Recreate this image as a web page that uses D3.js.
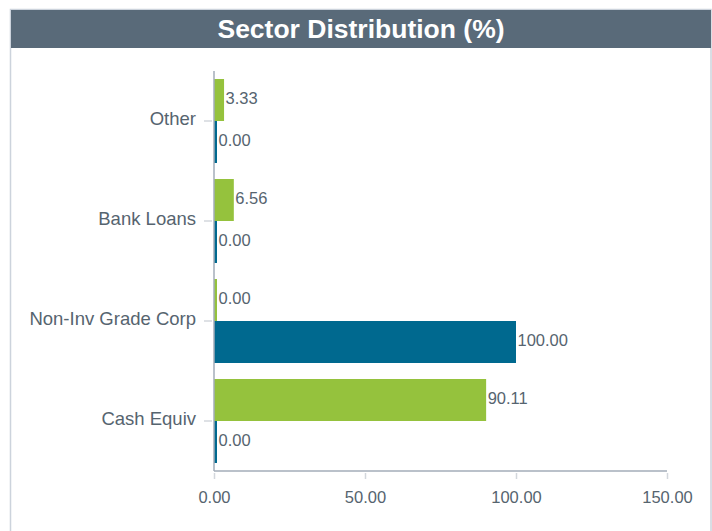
<!DOCTYPE html>
<html>
<head>
<meta charset="utf-8">
<script src="https://cdn.jsdelivr.net/npm/d3@7"></script>
<style>
  html, body { margin: 0; padding: 0; background: #ffffff; }
  svg { display: block; font-family: "Liberation Sans", Arial, sans-serif; }
</style>
</head>
<body>
<svg id="chart" width="712" height="531"></svg>
<script>
// Sector weights, two series per sector
const categories = ["Other", "Bank Loans", "Non-Inv Grade Corp", "Cash Equiv"];
const seriesNames = ["Fund", "Benchmark"];
const fundValues = [3.33, 6.56, 0.00, 90.11];
const benchmarkValues = [0.00, 0.00, 100.00, 0.00];
const xTicks = [0, 50, 100, 150];
const seriesColors = ["#95c23d", "#00698f"];

const svg = d3.select("#chart");
const W = 712, H = 531;
const textColor = "#56646f";

// Panel frame
svg.append("rect")
  .attr("x", 10.5).attr("y", 9.5)
  .attr("width", 700.5).attr("height", H)
  .attr("fill", "#ffffff")
  .attr("stroke", "#ccd3dc").attr("stroke-width", 1.5);

// Title bar
svg.append("rect")
  .attr("x", 11).attr("y", 10)
  .attr("width", 700).attr("height", 38)
  .attr("fill", "#596a79");
svg.append("text")
  .attr("x", 361).attr("y", 38)
  .attr("text-anchor", "middle")
  .attr("fill", "#ffffff")
  .attr("font-weight", "bold")
  .attr("font-size", "26.5px")
  .text("Sector Distribution (%)");

const margin = { left: 214, right: 45, top: 71, bottom: 60 };
const plotW = W - margin.left - margin.right;
const plotH = 400;

const x = d3.scaleLinear().domain([0, 150]).range([0, plotW]);
const y = d3.scaleBand().domain(categories).range([0, plotH])
  .paddingInner(0.16).paddingOuter(0.08);
const ySub = d3.scaleBand().domain(seriesNames).range([0, y.bandwidth()]);

const g = svg.append("g").attr("transform", `translate(${margin.left},${margin.top})`);

const rows = categories.map((c, i) => ({
  category: c,
  values: [
    { series: seriesNames[0], value: fundValues[i] },
    { series: seriesNames[1], value: benchmarkValues[i] }
  ]
}));

const minBar = 3;
const groups = g.selectAll("g.row").data(rows).join("g")
  .attr("class", "row")
  .attr("transform", d => `translate(0,${y(d.category)})`);

groups.selectAll("rect").data(d => d.values).join("rect")
  .attr("x", 0)
  .attr("y", d => ySub(d.series))
  .attr("width", d => Math.max(minBar, x(d.value)))
  .attr("height", ySub.bandwidth())
  .attr("fill", (d, i) => seriesColors[i]);

groups.selectAll("text").data(d => d.values).join("text")
  .attr("x", d => Math.max(minBar, x(d.value)) + 1.5)
  .attr("y", d => ySub(d.series) + ySub.bandwidth() / 2 - 2)
  .attr("dy", "0.35em")
  .attr("fill", textColor)
  .attr("font-size", "16.5px")
  .text(d => d.value.toFixed(2));

// Y axis
const yAxis = g.append("g")
  .call(d3.axisLeft(y).tickSize(10).tickPadding(8));
yAxis.select(".domain").attr("stroke", "#a3adb8").attr("stroke-width", 1.5)
  .attr("d", `M0,0V${plotH}`);
yAxis.selectAll(".tick line").attr("stroke", "#d3d7dc").attr("stroke-width", 1.5).attr("x2", -10).attr("x1", -2);
yAxis.selectAll(".tick text").attr("fill", textColor).attr("font-size", "18.5px")
  .attr("dy", "0.24em")
  .attr("font-family", "'Liberation Sans', Arial, sans-serif");

// X axis
const xAxis = g.append("g")
  .attr("transform", `translate(0,${plotH})`)
  .call(d3.axisBottom(x).tickValues(xTicks).tickFormat(d3.format(".2f")).tickSize(8).tickPadding(12));
xAxis.select(".domain").attr("stroke", "#a3adb8").attr("stroke-width", 1.5)
  .attr("d", `M0,0H${plotW}`);
xAxis.selectAll(".tick line").attr("stroke", "#d3d7dc").attr("stroke-width", 1.5).attr("y1", 2);
xAxis.selectAll(".tick text").attr("fill", textColor).attr("font-size", "16.5px")
  .attr("font-family", "'Liberation Sans', Arial, sans-serif");
</script>
</body>
</html>
